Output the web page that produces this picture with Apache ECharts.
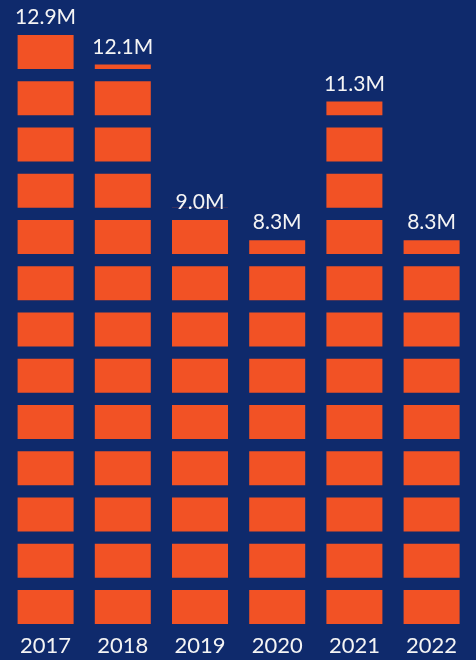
<!DOCTYPE html>
<html>
<head>
<meta charset="utf-8">
<script src="https://cdn.jsdelivr.net/npm/echarts@6/dist/echarts.min.js"></script>
<style>
  html, body { margin: 0; padding: 0; background: #0f2a6c; }
  #chart { width: 476px; height: 660px; }
</style>
</head>
<body>
<div id="chart"></div>
<script>
// Data
var years = ['2017', '2018', '2019', '2020', '2021', '2022'];
var values = [12.9, 12.1, 9.0, 8.3, 11.3, 8.3];   // millions
var axisMax = 13;

// Style constants (pixels)
var PITCH = 46.25;   // one million on the value axis
var BLOCK_H = 34;
var BLOCK_W = 56;

// top of the visible (clipped) block, in value units, for label placement
function visibleTop(v) {
  var n = Math.floor(v + 1e-9);
  var f = v - n;
  var blockFrac = BLOCK_H / PITCH;
  if (f < 1e-9) return n - 1 + blockFrac;
  return n + Math.min(f, blockFrac);
}
var labelAnchors = values.map(visibleTop);

var chart = echarts.init(document.getElementById('chart'));
chart.setOption({
  backgroundColor: '#0f2a6c',
  animation: false,
  grid: { left: 7, width: 463.2, top: 624 - PITCH * axisMax, height: PITCH * axisMax },
  xAxis: {
    type: 'category',
    data: years,
    axisLine: { show: false },
    axisTick: { show: false },
    axisLabel: { color: '#f4f4f4', fontFamily: 'Lato', fontSize: 22, margin: 11 }
  },
  yAxis: {
    type: 'value', min: 0, max: axisMax,
    show: false, splitLine: { show: false }
  },
  series: [
    {
      type: 'pictorialBar',
      data: values,
      symbol: 'rect',
      symbolSize: [BLOCK_W, BLOCK_H],
      symbolRepeat: 'fixed',
      symbolMargin: '7!',
      symbolBoundingData: axisMax,
      symbolClip: true,
      symbolOffset: [0, (PITCH - BLOCK_H) / 2],
      itemStyle: { color: '#f25225' },
      z: 2
    },
    {
      type: 'bar',
      data: labelAnchors,
      barWidth: BLOCK_W,
      itemStyle: { color: 'rgba(0,0,0,0)' },
      label: {
        show: true,
        position: 'top',
        distance: 7,
        color: '#f4f4f4',
        fontFamily: 'Lato',
        fontSize: 21,
        formatter: function (p) { return values[p.dataIndex].toFixed(1) + 'M'; }
      },
      z: 3
    }
  ]
});
</script>
</body>
</html>
